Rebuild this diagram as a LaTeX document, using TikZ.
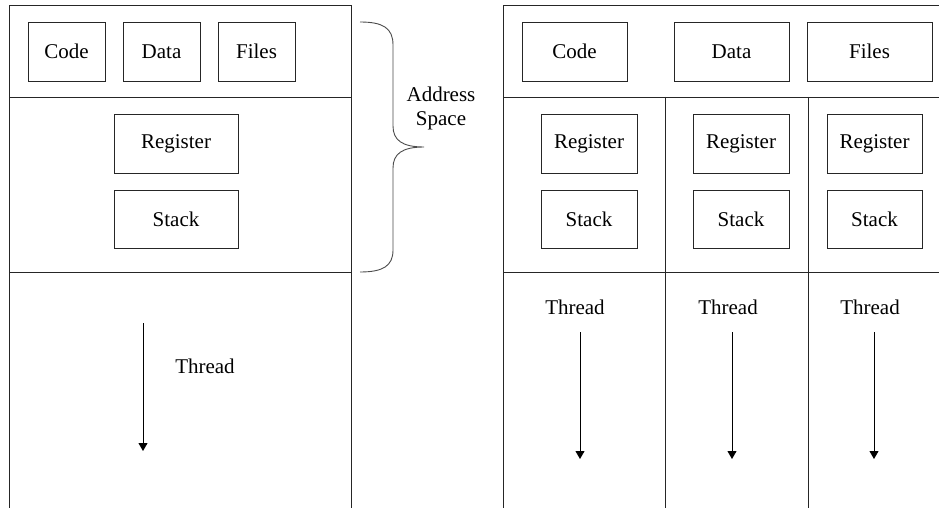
\documentclass[tikz,border=0pt]{standalone}
\usepackage{fontspec}
\setmainfont{Liberation Serif}
\usetikzlibrary{arrows.meta}
\begin{document}
\begin{tikzpicture}[x=1pt,y=-1pt,
  frame/.style={draw=black!85,line width=0.9pt},
  box/.style={draw=black!85,line width=0.9pt,inner sep=0pt,minimum height=59pt,font=\fontsize{21}{24}\selectfont},
  lbl/.style={inner sep=0pt,font=\fontsize{21}{24}\selectfont},
  flow/.style={line width=0.9pt,-{Triangle[length=8pt,width=9pt]}}]
\useasboundingbox[fill=white] (0,0) rectangle (939,508);
% left panel frame
\draw[frame] (9.5,508) -- (9.5,5) -- (351.5,5) -- (351.5,508);
\draw[frame] (9.5,97) -- (351.5,97);
\draw[frame] (9.5,272) -- (351.5,272);
% right panel frame
\draw[frame] (503,508) -- (503,5) -- (939,5);
\draw[frame] (503,97) -- (939,97);
\draw[frame] (503,272) -- (939,272);
\draw[frame] (665,97) -- (665,508);
\draw[frame] (808,97) -- (808,508);
% left boxes
\node[box,minimum width=77pt] (lcode) at (66.5,51.5) {Code};
\node[box,minimum width=77pt] (ldata) at (161.5,51.5) {Data};
\node[box,minimum width=77pt] (lfiles) at (256.5,51.5) {Files};
\node[box,minimum width=124pt] (lreg) at (176,143.5) {Register};
\node[box,minimum width=124pt,minimum height=58pt] (lstack) at (176,219) {Stack};
% brace
\draw[line width=0.9pt,black!70] (360,22) .. controls (383,22) and (393,28) .. (393,45) -- (393,126)
  .. controls (393,140) and (402,147) .. (424,147)
  .. controls (402,147) and (393,154) .. (393,168) -- (393,250)
  .. controls (393,266) and (383,272) .. (360,272);
\node[lbl,align=center] (addr) at (441,108) {Address\\Space};
% left thread
\coordinate (lts) at (143,323);
\coordinate (lte) at (143,451);
\draw[flow] (lts) -- (lte);
\node[lbl] (lthread) at (205,366) {Thread};
% right boxes
\node[box,minimum width=105pt] (rcode) at (574.5,51.5) {Code};
\node[box,minimum width=115pt] (rdata) at (731.5,51.5) {Data};
\node[box,minimum width=125pt] (rfiles) at (869.5,51.5) {Files};
\node[box,minimum width=96pt] (rreg1) at (589,143.5) {Register};
\node[box,minimum width=96pt] (rreg2) at (741,143.5) {Register};
\node[box,minimum width=95pt] (rreg3) at (874.5,143.5) {Register};
\node[box,minimum width=96pt,minimum height=58pt] (rstack1) at (589,219) {Stack};
\node[box,minimum width=96pt,minimum height=58pt] (rstack2) at (741,219) {Stack};
\node[box,minimum width=95pt,minimum height=58pt] (rstack3) at (874.5,219) {Stack};
% right threads
\node[lbl] (rthread1) at (575,307) {Thread};
\node[lbl] (rthread2) at (728,307) {Thread};
\node[lbl] (rthread3) at (870,307) {Thread};
\coordinate (a1s) at (580,332);
\coordinate (a1e) at (580,459);
\coordinate (a2s) at (732,332);
\coordinate (a2e) at (732,459);
\coordinate (a3s) at (874,332);
\coordinate (a3e) at (874,459);
\draw[flow] (a1s) -- (a1e);
\draw[flow] (a2s) -- (a2e);
\draw[flow] (a3s) -- (a3e);
\end{tikzpicture}
\end{document}
